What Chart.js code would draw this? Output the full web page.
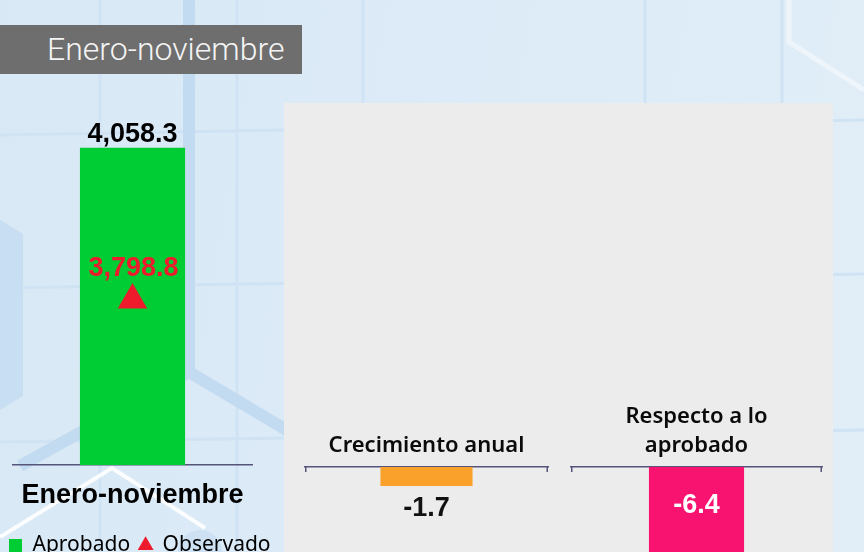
<!DOCTYPE html>
<html lang="es">
<head>
<meta charset="utf-8">
<script src="https://cdn.jsdelivr.net/npm/chart.js@4.4.0/dist/chart.umd.min.js"></script>
<style>
  html, body { margin: 0; padding: 0; }
  body {
    width: 864px; height: 552px; overflow: hidden; position: relative;
    background: linear-gradient(100deg, #d8e8f5 0%, #dcebf7 45%, #e1eef8 100%);
    font-family: "Liberation Sans", Arial, sans-serif;
  }
  #fondo { position: absolute; left: 0; top: 0; }
  #banner {
    position: absolute; left: 0; top: 25px; width: 302px; height: 49px;
    background: #6e6e6e; color: #f4f4f4;
    font-family: Roboto, "Open Sans", sans-serif; font-weight: 300; font-size: 32px;
    line-height: 49px; padding-left: 47px; box-sizing: border-box; white-space: nowrap;
  }
  #panel { position: absolute; left: 284px; top: 103px; width: 549px; height: 460px; background: #ececec; }
  canvas { position: absolute; }
  #graficaIzq { left: 0; top: 100px; }
  #graficaCrec { left: 295px; top: 380px; }
  #graficaResp { left: 561px; top: 380px; }
</style>
</head>
<body>
<svg id="fondo" width="864" height="552">
  <g stroke="#cfe3f4" stroke-width="3" fill="none">
    <line x1="100" y1="0" x2="100" y2="552"/>
    <line x1="237" y1="0" x2="237" y2="552"/>
    <line x1="363" y1="0" x2="363" y2="552"/>
    <line x1="645" y1="0" x2="645" y2="552"/>
    <line x1="782" y1="0" x2="782" y2="552"/>
    <line x1="0" y1="135" x2="864" y2="120"/>
    <line x1="0" y1="288" x2="864" y2="274"/>
    <line x1="0" y1="442" x2="864" y2="430"/>
  </g>
  <polygon points="0,220 23,234 23,396 0,410" fill="#c8def2"/>
  <g stroke="#c3dbf0" stroke-width="12" fill="none">
    <polyline points="189,0 189,372 290,432"/>
    <line x1="20" y1="466" x2="189" y2="372"/>
  </g>
  <g stroke="#ffffff" stroke-width="4" fill="none" opacity="0.9">
    <polyline points="0,537 112,468 205,528"/>
  </g>
  <g stroke="#ffffff" stroke-width="5" fill="none" opacity="0.45">
    <polyline points="789,0 789,42 864,90"/>
  </g>
  <circle cx="200" cy="552" r="22" fill="#cde1f3"/>
</svg>
<div id="banner">Enero-noviembre</div>
<div id="panel"></div>
<canvas id="graficaIzq" width="300" height="466"></canvas>
<canvas id="graficaCrec" width="263" height="200"></canvas>
<canvas id="graficaResp" width="271" height="200"></canvas>
<script>
// datos
const periodo = ['Enero-noviembre'];
const aprobado = [4058.3];
const observado = [3798.8];
const crecimientoEtiqueta = [['Crecimiento anual']];
const crecimiento = [-1.7];
const respectoEtiqueta = [['Respecto a lo', 'aprobado']];
const respecto = [-6.4];

const colorEje = '#55557c';
const fuenteNegrita = '"Liberation Sans", Arial, sans-serif';
const fmt = (v) => v.toLocaleString('en-US', { minimumFractionDigits: 1, maximumFractionDigits: 1 });

// etiquetas de valor sobre las marcas
const etiquetas = {
  id: 'etiquetas',
  afterDatasetsDraw(chart, args, opts) {
    const ctx = chart.ctx;
    (opts.items || []).forEach(item => {
      const meta = chart.getDatasetMeta(item.dataset);
      meta.data.forEach((el, i) => {
        const val = chart.data.datasets[item.dataset].data[i];
        let y;
        if (item.from === 'base') y = el.base + item.offset;
        else y = el.y + item.offset;
        ctx.save();
        ctx.font = 'bold 27px ' + fuenteNegrita;
        ctx.fillStyle = item.color;
        ctx.textAlign = 'center';
        ctx.textBaseline = 'middle';
        ctx.fillText(fmt(val), el.x + (item.dx || 0), y);
        ctx.restore();
      });
    });
  }
};

// marcas cortas en los extremos del eje
const extremos = {
  id: 'extremos',
  afterDraw(chart, args, opts) {
    if (!opts.show) return;
    const { ctx, chartArea } = chart;
    ctx.save();
    ctx.strokeStyle = colorEje;
    ctx.lineWidth = 1.5;
    [chartArea.left + 0.75, chartArea.right - 0.75].forEach(x => {
      ctx.beginPath();
      ctx.moveTo(x, chartArea.top);
      ctx.lineTo(x, chartArea.top + 5);
      ctx.stroke();
    });
    ctx.restore();
  }
};

Chart.defaults.animation = false;
Chart.defaults.responsive = false;

new Chart(document.getElementById('graficaIzq'), {
  type: 'bar',
  data: {
    labels: periodo,
    datasets: [{
      type: 'bar',
      label: 'Aprobado',
      data: aprobado,
      backgroundColor: '#00cc33',
      pointStyle: 'rect',
      yAxisID: 'y',
      barPercentage: 0.44,
      categoryPercentage: 1,
      order: 2
    }, {
      type: 'line',
      label: 'Observado',
      data: observado,
      yAxisID: 'y2',
      showLine: false,
      pointStyle: 'triangle',
      pointRadius: 17,
      pointBackgroundColor: '#ee1b2d',
      backgroundColor: '#ee1b2d',
      borderColor: '#ee1b2d',
      pointBorderWidth: 0,
      borderWidth: 0,
      order: 1
    }]
  },
  options: {
    layout: { autoPadding: false, padding: { left: 0, right: 0, top: 0, bottom: 0 } },
    scales: {
      x: {
        grid: { display: false, drawTicks: false },
        border: { display: true, color: colorEje, width: 1.5 },
        ticks: {
          padding: 14.3,
          color: '#000',
          font: { family: fuenteNegrita, size: 27, weight: 'bold', lineHeight: 1.2 }
        }
      },
      y: {
        min: 0, max: 4670,
        grid: { display: false, drawTicks: false },
        border: { display: false },
        ticks: { display: false },
        afterFit: (s) => { s.width = 13; }
      },
      y2: {
        position: 'right',
        min: 0, max: 8400,
        grid: { display: false, drawTicks: false },
        border: { display: false },
        ticks: { display: false },
        afterFit: (s) => { s.width = 48; }
      }
    },
    plugins: {
      tooltip: { enabled: false },
      legend: {
        position: 'bottom',
        align: 'start',
        labels: {
          usePointStyle: true,
          boxWidth: 13,
          boxHeight: 13,
          padding: 9,
          color: '#000',
          font: { family: '"Noto Sans", sans-serif', size: 21 },
          sort: (a, b) => a.datasetIndex - b.datasetIndex
        }
      },
      etiquetas: {
        items: [
          { dataset: 0, from: 'top', offset: -13, color: '#000' },
          { dataset: 1, from: 'top', offset: -31, color: '#ee1b2d', dx: 1 }
        ]
      }
    }
  },
  plugins: [etiquetas]
});

function graficaVariacion(id, etiquetasX, valores, color, minimo, padTop, etiqueta) {
  return new Chart(document.getElementById(id), {
    type: 'bar',
    data: {
      labels: etiquetasX,
      datasets: [{
        data: valores,
        backgroundColor: color,
        barPercentage: 0.379,
        categoryPercentage: 1
      }]
    },
    options: {
      layout: { autoPadding: false, padding: { left: 10, right: 10, top: padTop, bottom: 0 } },
      scales: {
        x: {
          position: 'top',
          grid: { display: false, drawTicks: false },
          border: { display: true, color: colorEje, width: 1.5 },
          ticks: {
            padding: 6.15,
            color: '#0a0a0a',
            font: { family: '"Noto Sans", "Open Sans", sans-serif', size: 22, weight: '600', lineHeight: 1.35 }
          }
        },
        y: { display: false, min: minimo, max: 0 }
      },
      plugins: {
        legend: { display: false },
        tooltip: { enabled: false },
        etiquetas: { items: [etiqueta] },
        extremos: { show: true }
      }
    },
    plugins: [etiquetas, extremos]
  });
}

graficaVariacion('graficaCrec', crecimientoEtiqueta, crecimiento, '#f9a12b', -10.1, 45,
  { dataset: 0, from: 'top', offset: 23, color: '#111' });
graficaVariacion('graficaResp', respectoEtiqueta, respecto, '#f7136f', -7.2, 15.3,
  { dataset: 0, from: 'base', offset: 39, color: '#fff' });
</script>
</body>
</html>
